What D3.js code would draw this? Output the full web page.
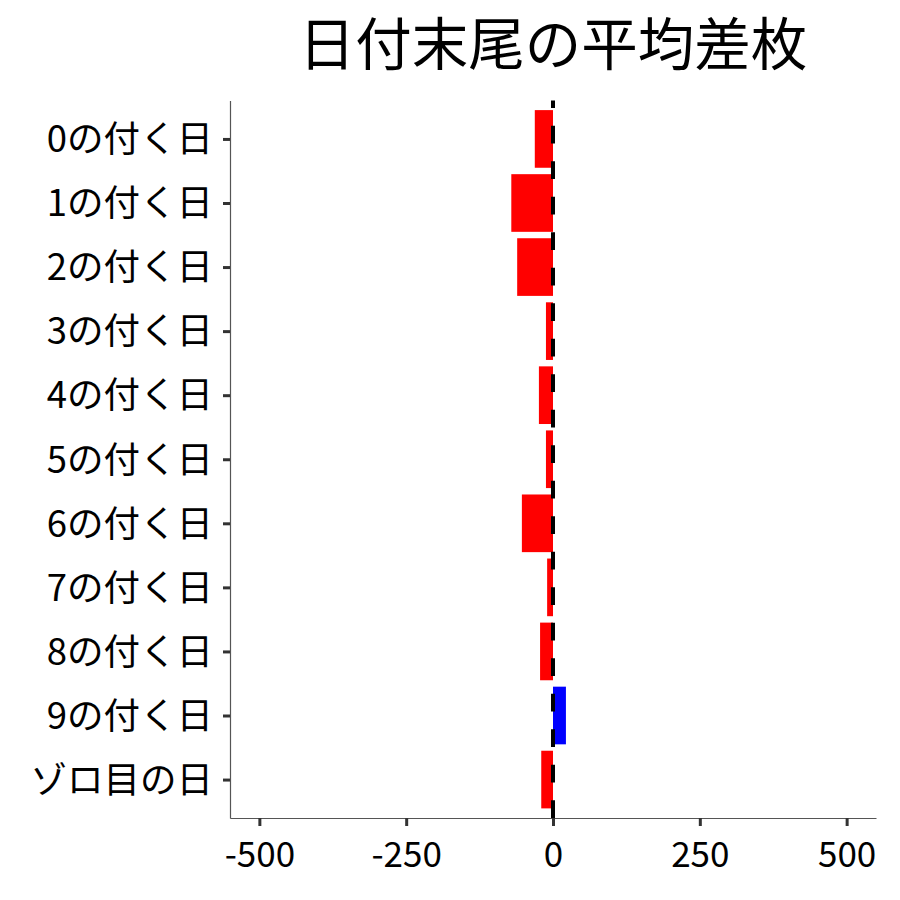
<!DOCTYPE html>
<html><head><meta charset="utf-8">
<script src="https://cdn.jsdelivr.net/npm/d3@7"></script>
<style>body{margin:0;background:#fff}</style>
</head><body>
<svg id="c" width="900" height="900"></svg>
<script>
const categories = ["0の付く日","1の付く日","2の付く日","3の付く日","4の付く日","5の付く日","6の付く日","7の付く日","8の付く日","9の付く日","ゾロ目の日"];
const values = [-31, -71, -61, -12, -24, -12, -53, -10, -22, 22, -20];
const xTicks = [-500, -250, 0, 250, 500];
const title = "日付末尾の平均差枚";

const font = "'Noto Sans CJK JP', 'Noto Sans', sans-serif";
const svg = d3.select("#c");
const L = 230, R = 876, T = 100.5, B = 818;
const x = d3.scaleLinear().domain([-550, 550]).range([L, R]);
const y = d3.scalePoint().domain(categories).range([T, B]).padding(0.6);
const bw = y.step() * 0.9;

svg.append("rect").attr("width", 900).attr("height", 900).attr("fill", "#fff");

svg.append("g").selectAll("rect").data(categories).join("rect")
  .attr("x", (d, i) => Math.min(x(0), x(values[i])))
  .attr("width", (d, i) => Math.abs(x(values[i]) - x(0)))
  .attr("y", d => y(d) - bw / 2)
  .attr("height", bw)
  .attr("fill", (d, i) => values[i] >= 0 ? "#0000FF" : "#FF0000");

svg.append("line")
  .attr("x1", x(0)).attr("x2", x(0)).attr("y1", B).attr("y2", T)
  .attr("stroke", "#000").attr("stroke-width", 4)
  .attr("stroke-dasharray", "17.75 17.75");

const ax = svg.append("g").attr("transform", `translate(${L},0)`)
  .call(d3.axisLeft(y).tickSize(7).tickSizeOuter(0).tickPadding(10));
const bx = svg.append("g").attr("transform", `translate(0,${B})`)
  .call(d3.axisBottom(x).tickValues(xTicks).tickFormat(d => String(d)).tickSize(8).tickSizeOuter(0).tickPadding(10));
[ax, bx].forEach(g => {
  g.select(".domain").attr("stroke", "#555").attr("stroke-width", 1.2);
  g.selectAll(".tick line").attr("stroke", "#333").attr("stroke-width", 3);
  g.selectAll(".tick text").attr("fill", "#000").style("font-family", font).style("font-size", "36.5px");
});
bx.selectAll(".tick text").attr("dy", null).attr("y", 49).style("font-size", "35px");
ax.selectAll(".tick text").attr("dy", "0.35em");

svg.append("text").attr("x", (L + R) / 2).attr("y", 65)
  .attr("text-anchor", "middle").style("font-family", font).style("font-size", "56.5px")
  .attr("fill", "#000").text(title);
</script>
</body></html>
